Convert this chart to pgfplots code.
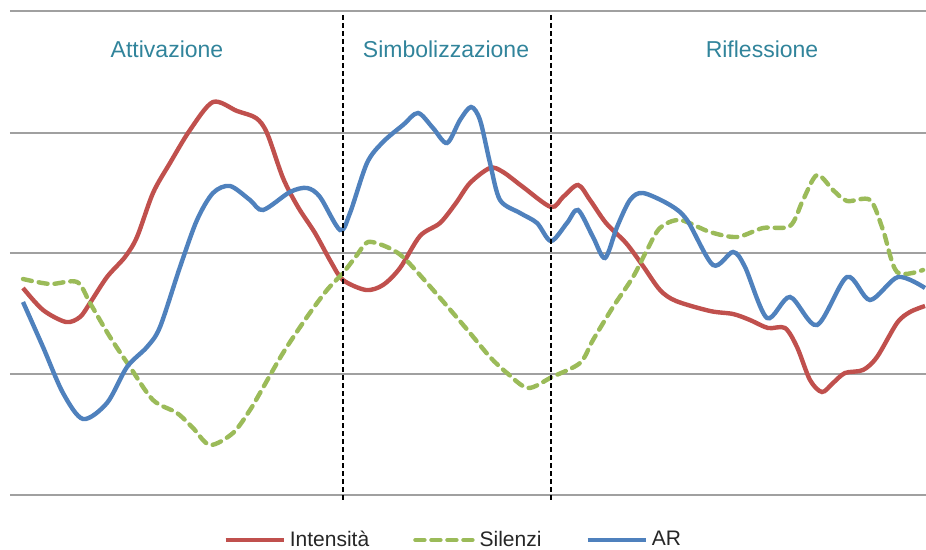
\documentclass[border=0pt]{standalone}
\usepackage{pgfplots}
\pgfplotsset{compat=1.18}
\usepackage{fontspec}
\setmainfont{Liberation Sans}
\definecolor{cRed}{HTML}{C0504D}
\definecolor{cGreen}{HTML}{9BBB59}
\definecolor{cBlue}{HTML}{4F81BD}
\definecolor{cTeal}{HTML}{31849B}
\definecolor{cGrid}{HTML}{A0A0A0}
\begin{document}
\begin{tikzpicture}
\begin{axis}[
  x=0.5pt, y=0.5pt,
  y dir=reverse,
  xmin=10, xmax=926, ymin=11, ymax=495,
  clip=false,
  axis line style={draw=none},
  major tick length=0pt,
  xtick=\empty,
  ytick={11,133,253,374,495},
  yticklabels={},
  yticklabel style={inner sep=0pt},
  ymajorgrids,
  grid style={cGrid, line width=0.6pt},
  legend columns=3,
  legend style={draw=none, fill=none, at={(0.485,-0.093)}, anchor=center,
    font=\fontsize{10.5}{12}\selectfont, text=black!85,
    /tikz/every even column/.append style={column sep=20pt},
    inner sep=0pt},
  legend cell align=left,
  legend image code/.code={\draw[#1] (0pt,0pt) -- (29pt,0pt);},
]
\addplot[cRed, line width=2.2pt, smooth, tension=0.5] coordinates {
(23,288) (43,310) (66,322) (80,317) (90,303) (107,277) (125,257) (137,237) (153,193) (170,163) (190,130) (213,102) (237,111) (256,118) (267,133) (283,178) (298,207) (315,233) (331,262) (343,280) (366,290) (383,285) (400,268) (420,236) (440,223) (456,203) (470,183) (490,168) (503,172) (523,187) (551,207) (563,197) (578,185) (590,200) (606,223) (626,243) (643,266) (660,290) (676,301) (710,311) (733,314) (750,320) (768,328) (785,328) (797,347) (810,380) (822,392) (833,383) (845,373) (863,370) (877,357) (897,323) (910,312) (925,306)
};
\addlegendentry{Intensità}
\addplot[cGreen, line width=2.2pt, smooth, tension=0.5, dash pattern=on 4.5pt off 3.5pt, line cap=round] coordinates {
(23,279) (50,284) (77,282) (90,303) (110,337) (130,367) (153,400) (177,413) (193,428) (210,445) (233,433) (250,410) (260,393) (283,353) (307,317) (327,290) (343,273) (357,255) (368,242) (387,247) (403,257) (427,283) (453,313) (470,333) (490,357) (507,373) (528,388) (552,377) (580,363) (593,340) (613,307) (633,277) (647,250) (660,228) (680,220) (710,232) (737,237) (763,228) (790,226) (803,200) (817,175) (833,190) (847,201) (870,200) (883,230) (897,272) (923,270)
};
\addlegendentry{Silenzi}
\addplot[cBlue, line width=2.2pt, smooth, tension=0.5] coordinates {
(23,302) (43,347) (63,393) (83,419) (107,403) (127,367) (147,347) (160,327) (180,267) (197,220) (213,193) (230,186) (250,200) (263,210) (290,192) (307,188) (320,197) (340,230) (350,213) (367,163) (383,142) (403,125) (418,113) (433,128) (447,143) (460,120) (471,107) (480,120) (490,163) (500,200) (520,213) (537,223) (551,241) (567,223) (578,210) (593,237) (605,258) (617,227) (630,200) (643,193) (670,205) (687,220) (713,265) (733,252) (745,267) (767,318) (790,297) (817,325) (847,277) (870,300) (898,277) (925,288)
};
\addlegendentry{AR}
\addplot[black, line width=0.75pt, dash pattern=on 2.5pt off 1.5pt, forget plot] coordinates {(343,15) (343,501)};
\addplot[black, line width=0.75pt, dash pattern=on 2.5pt off 1.5pt, forget plot] coordinates {(551,15) (551,501)};
\node[cTeal, font=\fontsize{11.5}{13}\selectfont] at (axis cs:167,49) {Attivazione};
\node[cTeal, font=\fontsize{11.5}{13}\selectfont] at (axis cs:446,49) {Simbolizzazione};
\node[cTeal, font=\fontsize{11.5}{13}\selectfont] at (axis cs:762,49) {Riflessione};
\coordinate (bbA) at (axis cs:0,550);
\coordinate (bbB) at (axis cs:926,0);
\end{axis}
\pgfresetboundingbox
\path[use as bounding box] (bbA) rectangle (bbB);
\end{tikzpicture}
\end{document}
